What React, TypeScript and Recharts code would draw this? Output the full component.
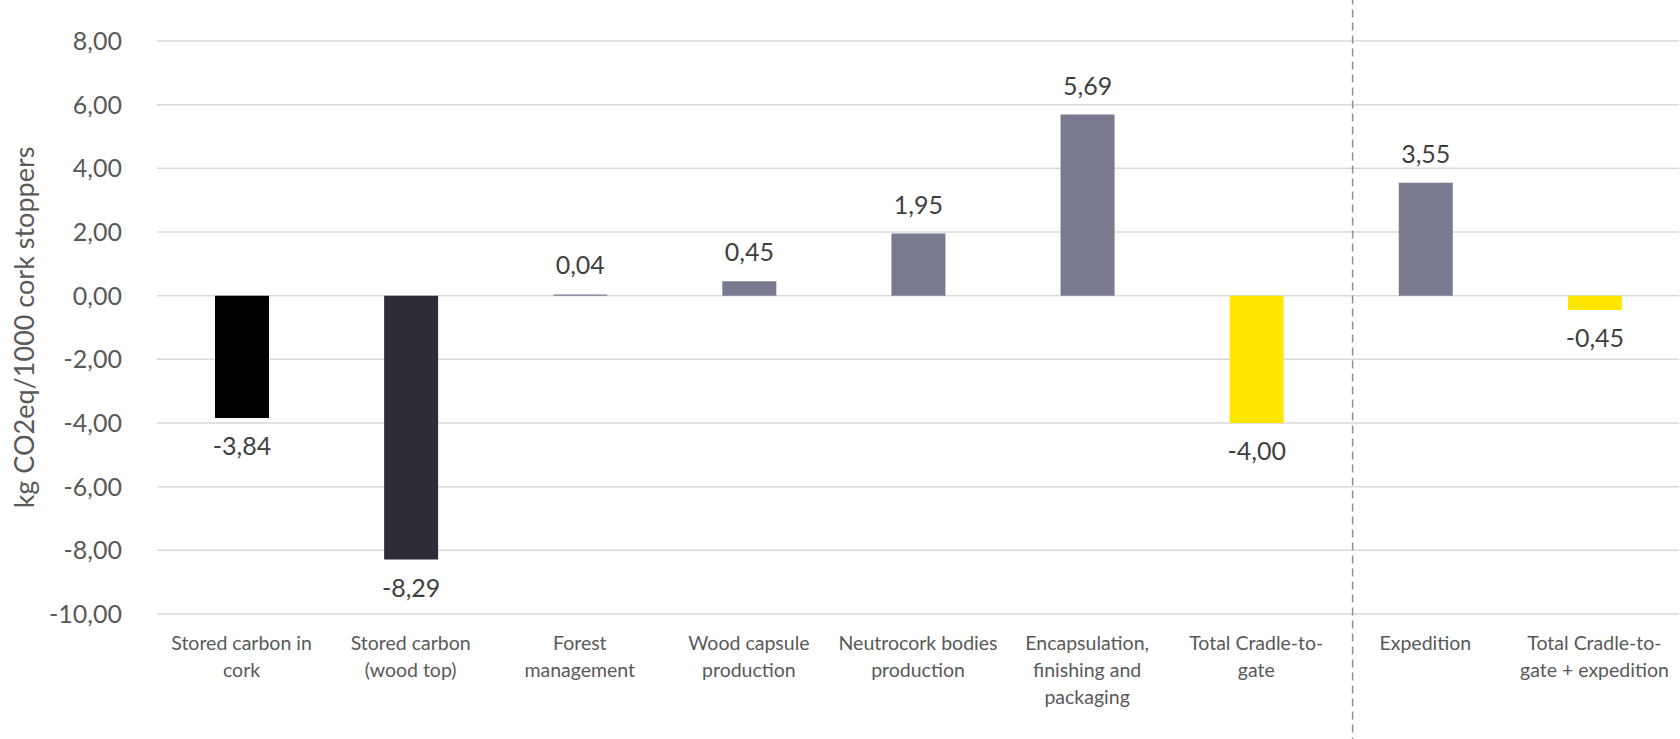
import React from "react"
import {
  BarChart,
  Bar,
  XAxis,
  YAxis,
  CartesianGrid,
  Cell,
  LabelList,
  ReferenceLine,
} from "recharts"

const CATEGORIES = [
  "Stored carbon in\ncork",
  "Stored carbon\n(wood top)",
  "Forest\nmanagement",
  "Wood capsule\nproduction",
  "Neutrocork bodies\nproduction",
  "Encapsulation,\nfinishing and\npackaging",
  "Total Cradle-to-\ngate",
  "Expedition",
  "Total Cradle-to-\ngate + expedition",
]

const VALUES = [-3.84, -8.29, 0.04, 0.45, 1.95, 5.69, -4.0, 3.55, -0.45]

const COLORS = [
  "#000000",
  "#2e2d37",
  "#797a90",
  "#797a90",
  "#797a90",
  "#797a90",
  "#ffe600",
  "#797a90",
  "#ffe600",
]

const Y_TICKS = [-10, -8, -6, -4, -2, 0, 2, 4, 6, 8]

// dashed separator, in category units (0..9)
const SEPARATOR_AT = 7.07

const FONT = "Lato, 'Open Sans', sans-serif"

const fmt = (v: number) => v.toFixed(2).replace(".", ",")

const data = CATEGORIES.map((name, i) => ({
  name,
  idx: i + 0.5,
  value: VALUES[i],
}))

function CategoryTick(props: any) {
  const { x, y, payload } = props
  const lines = String(payload.value).split("\n")
  return (
    <g transform={`translate(${x},${y})`}>
      <text textAnchor="middle" fill="#595959" fontSize={19.5} fontFamily={FONT}>
        {lines.map((line, i) => (
          <tspan key={i} x={0} y={28 + i * 27}>
            {line}
          </tspan>
        ))}
      </text>
    </g>
  )
}

function ValueLabel(props: any) {
  const { x, y, width, height, value } = props
  const top = Math.min(y, y + height)
  const bottom = Math.max(y, y + height)
  const ty = value >= 0 ? top - 20 : bottom + 37
  return (
    <text
      x={x + width / 2}
      y={ty}
      textAnchor="middle"
      fill="#404040"
      fontSize={25}
      fontFamily={FONT}
    >
      {fmt(Number(value))}
    </text>
  )
}

export default function App() {
  return (
    <div style={{ width: 1680, height: 739, background: "#fff" }}>
      <style>{`body{margin:0}`}</style>
      <BarChart
        width={1680}
        height={739}
        data={data}
        margin={{ top: 41, right: 1, bottom: 0, left: 0 }}
        barSize={54}
      >
        <CartesianGrid vertical={false} stroke="#d9d9d9" strokeWidth={1.5} />
        <XAxis
          dataKey="name"
          xAxisId="cat"
          height={125}
          axisLine={false}
          tickLine={false}
          interval={0}
          tick={<CategoryTick />}
        />
        <XAxis dataKey="idx" xAxisId="num" type="number" domain={[0, 9]} hide />
        <YAxis
          width={157}
          domain={[-10, 8]}
          ticks={Y_TICKS}
          tickFormatter={fmt}
          axisLine={false}
          tickLine={false}
          tickMargin={29}
          tick={{ fill: "#595959", fontSize: 25, fontFamily: FONT }}
          label={{
            value: "kg CO2eq/1000 cork stoppers",
            angle: -90,
            position: "insideLeft",
            offset: 24,
            dy: 0,
            style: {
              textAnchor: "middle",
              fill: "#595959",
              fontSize: 27,
              fontFamily: FONT,
            },
          }}
        />
        <Bar dataKey="value" xAxisId="cat" isAnimationActive={false}>
          {data.map((d, i) => (
            <Cell key={d.name} fill={COLORS[i]} />
          ))}
          <LabelList dataKey="value" content={<ValueLabel />} />
        </Bar>
        <ReferenceLine
          xAxisId="num"
          ifOverflow="visible"
          segment={[
            { x: SEPARATOR_AT, y: 9.4 },
            { x: SEPARATOR_AT, y: -14.2 },
          ]}
          stroke="#8c8ca3"
          strokeWidth={1.5}
          strokeDasharray="8 5"
        />
      </BarChart>
    </div>
  )
}
